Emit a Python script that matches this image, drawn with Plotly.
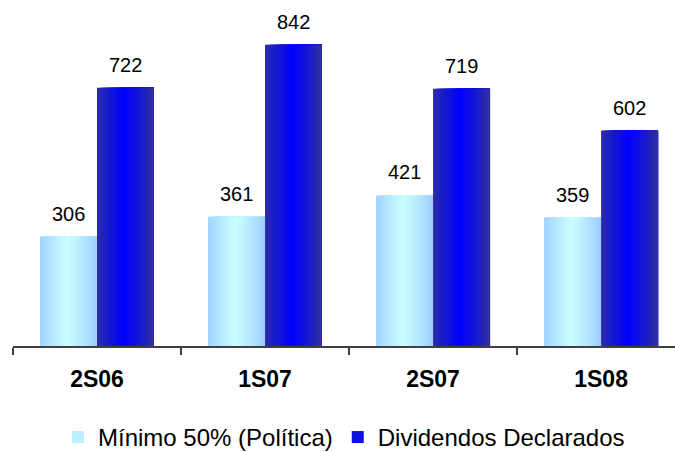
import plotly.graph_objects as go

# Half-year periods and values
periods = ["2S06", "1S07", "2S07", "1S08"]
minimo = [306, 361, 421, 359]
dividendos = [722, 842, 719, 602]

series_names = ["Mínimo 50% (Política)", "Dividendos Declarados"]

FONT = "Liberation Sans, Arial, sans-serif"
BAR_W = 0.339          # width of a single bar, in category units
N_STRIPS = 22          # vertical strips used to shade each bar


def mix(edge, center, t):
    return "rgb({},{},{})".format(*[round(e + (c - e) * t) for e, c in zip(edge, center)])


def shade(i, edge, center):
    # cylinder-like shading: dark at both edges, bright in the middle
    u = (i + 0.5) / N_STRIPS
    t = max(0.0, 1 - abs(u - 0.48) / 0.52)
    return mix(edge, center, t ** 0.85)


styles = [
    dict(values=minimo, offset=-BAR_W, edge=(153, 204, 255), center=(204, 255, 255)),
    dict(values=dividendos, offset=0.0, edge=(51, 51, 153), center=(0, 0, 255)),
]

fig = go.Figure()
for name, st in zip(series_names, styles):
    for i in range(N_STRIPS):
        # each layer starts further right and runs to the bar's right edge,
        # so the visible part of layer i is a single strip without seams
        fig.add_trace(go.Bar(
            x=periods,
            y=st["values"],
            offset=st["offset"] + i * BAR_W / N_STRIPS,
            width=BAR_W * (N_STRIPS - i) / N_STRIPS,
            marker=dict(color=shade(i, st["edge"], st["center"]), line=dict(width=0)),
            name=name,
            legendgroup=name,
            showlegend=(i == 6),
            hoverinfo="skip",
        ))

# value labels above each bar
for st, shift in zip(styles, (-BAR_W / 2, BAR_W / 2)):
    for k, (p, v) in enumerate(zip(periods, st["values"])):
        fig.add_annotation(
            x=k + shift, y=v, text=str(v), showarrow=False,
            yanchor="bottom", yshift=10,
            font=dict(family=FONT, size=20, color="black"),
        )

fig.update_layout(
    width=675, height=452,
    margin=dict(l=13, r=0, t=24, b=106, autoexpand=False),
    paper_bgcolor="white", plot_bgcolor="white",
    barmode="overlay",
    showlegend=True,
    legend=dict(
        orientation="h", x=0.5, xanchor="center", y=-0.284, yanchor="middle",
        font=dict(family=FONT, size=24, color="black"),
        traceorder="normal", itemclick=False,
    ),
    xaxis=dict(
        type="category", range=[-0.5, 3.44],
        showline=True, linecolor="#404040", linewidth=1.5,
        ticks="outside", tickson="boundaries", ticklen=7, tickcolor="#404040", tickwidth=1.5,
        tickfont=dict(family=FONT, size=23, color="black", weight="bold"),
        ticklabelstandoff=12,
        showgrid=False, zeroline=False,
    ),
    yaxis=dict(range=[0, 900], visible=False, showgrid=False, zeroline=False),
)

fig.write_html("out.html")
